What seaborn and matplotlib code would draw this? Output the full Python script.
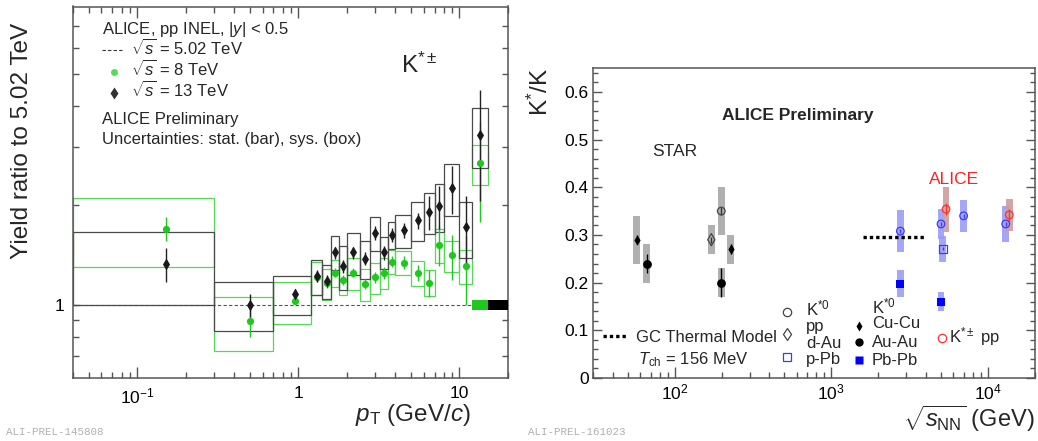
import matplotlib
matplotlib.use('Agg')
import matplotlib.pyplot as plt
import seaborn as sns
import numpy as np
from matplotlib.patches import Rectangle
from matplotlib.ticker import MultipleLocator, FuncFormatter, LogLocator, NullFormatter, NullLocator

# ---------------- left panel: K*(+-) yield ratio to 5.02 TeV ----------------
pt_lo = [0.0, 0.3, 0.7, 1.2, 1.4, 1.6, 1.8, 2.0, 2.4, 2.8, 3.2, 3.6, 4.0, 5.0, 6.0, 7.0, 8.0, 10.0, 12.0]
pt_hi = [0.3, 0.7, 1.2, 1.4, 1.6, 1.8, 2.0, 2.4, 2.8, 3.2, 3.6, 4.0, 5.0, 6.0, 7.0, 8.0, 10.0, 12.0, 15.0]
pt_center = [0.15, 0.5, 0.95, 1.3, 1.5, 1.7, 1.9, 2.2, 2.6, 3.0, 3.4, 3.8, 4.5, 5.5, 6.5, 7.5, 9.0, 11.0, 13.5]

ratio_13 = [1.33, 1.00, 1.075, 1.22, 1.18, 1.44, 1.31, 1.44, 1.38, 1.65, 1.44, 1.63, 1.68, 1.80, 1.91, 1.99, 2.26, 1.72, 3.26]
stat_13 = [0.16, 0.08, 0.04, 0.05, 0.05, 0.06, 0.06, 0.06, 0.06, 0.08, 0.07, 0.08, 0.09, 0.10, 0.23, 0.30, 0.38, 0.42, 1.2]
sys_13 = [0.33, 0.17, 0.146, 0.15, 0.14, 0.17, 0.20, 0.21, 0.18, 0.20, 0.16, 0.15, 0.19, 0.24, 0.27, 0.33, 0.40, 0.33, 0.67]

ratio_8 = [1.70, 0.89, 1.025, 1.21, 1.16, 1.25, 1.19, 1.25, 1.155, 1.21, 1.25, 1.35, 1.34, 1.25, 1.166, 1.52, 1.41, 1.31, 2.68]
stat_8 = [0.14, 0.09, 0.02, 0.04, 0.04, 0.04, 0.04, 0.04, 0.04, 0.05, 0.05, 0.05, 0.06, 0.07, 0.11, 0.21, 0.22, 0.31, 0.9]
sys_8 = [0.40, 0.165, 0.15, 0.14, 0.125, 0.12, 0.12, 0.14, 0.13, 0.13, 0.135, 0.11, 0.11, 0.11, 0.105, 0.18, 0.15, 0.155, 0.37]

# normalisation uncertainty boxes at ratio = 1 (8 TeV, 13 TeV)
norm_lo = [12.0, 15.0]
norm_hi = [15.0, 20.0]
norm_unc = [0.035, 0.035]

# ---------------- right panel: K*/K vs sqrt(s_NN) ----------------
star_cucu_x = [57, 228]
star_cucu_y = [0.29, 0.27]
star_cucu_stat = [0.01, 0.01]
star_cucu_sys = [0.05, 0.03]

star_auau_x = [66, 198]
star_auau_y = [0.24, 0.20]
star_auau_stat = [0.02, 0.03]
star_auau_sys = [0.04, 0.03]

star_pp_x = [198]
star_pp_y = [0.35]
star_pp_stat = [0.008]
star_pp_sys = [0.05]

star_dau_x = [171]
star_dau_y = [0.29]
star_dau_stat = [0.006]
star_dau_sys = [0.03]

alice_pp_x = [2760, 5020, 7000, 13000]
alice_pp_y = [0.308, 0.323, 0.340, 0.323]
alice_pp_stat = [0.004, 0.004, 0.004, 0.004]
alice_pp_sys = [0.044, 0.031, 0.034, 0.037]

alice_ppb_x = [5160]
alice_ppb_y = [0.271]
alice_ppb_stat = [0.003]
alice_ppb_sys = [0.027]

alice_pbpb_x = [2760, 5020]
alice_pbpb_y = [0.198, 0.160]
alice_pbpb_stat = [0.006, 0.008]
alice_pbpb_sys = [0.029, 0.020]

alice_kch_x = [5400, 13700]
alice_kch_y = [0.354, 0.342]
alice_kch_stat = [0.012, 0.012]
alice_kch_sys = [0.047, 0.034]

thermal_x = [1600, 4000]
thermal_y = 0.295

# ---------------- style ----------------
sns.set_theme(style='ticks')
plt.rcParams['font.family'] = ['Liberation Sans', 'DejaVu Sans']
plt.rcParams.update({
    'mathtext.fontset': 'custom',
    'mathtext.rm': 'Liberation Sans',
    'mathtext.it': 'Liberation Sans:italic',
    'mathtext.bf': 'Liberation Sans:bold',
    'mathtext.sf': 'Liberation Sans',
    'axes.edgecolor': '#555555',
    'axes.linewidth': 1.1,
    'xtick.color': '#555555',
    'ytick.color': '#555555',
    'xtick.labelcolor': 'black',
    'ytick.labelcolor': 'black',
})

GREEN = '#1ec81e'
GREEN_BOX = '#55d855'
BLACK_BOX = '#4a4a4a'
GRAY_BOX = '#a8a8a8'
BLUE_BOX = '#9c9cf6'
RED_BOX = '#cf9c9c'
BLUE = '#3838ff'
RED = '#ff3030'

W, H = 1038, 441
fig = plt.figure(figsize=(W / 100, H / 100), dpi=100)


def place(x0, y0, x1, y1):
    return fig.add_axes([x0 / W, 1 - y1 / H, (x1 - x0) / W, (y1 - y0) / H])


axL = place(73, 6.5, 508, 378)
axR = place(593, 68, 1035, 378)

# ================= left panel =================
xmin_l, xmax_l = 0.04, 20
axL.set_xscale('log')
axL.set_yscale('log')
axL.set_xlim(xmin_l, xmax_l)
axL.set_ylim(0.6, 8)

axL.axhline(1, color='#555555', lw=0.8, ls=(0, (3, 2)), zorder=1)

for lo, hi, y, s in zip(pt_lo, pt_hi, ratio_8, sys_8):
    lo = max(lo, xmin_l)
    axL.add_patch(Rectangle((lo, y - s), hi - lo, 2 * s, fill=False, ec=GREEN_BOX, lw=0.9, zorder=2))
for lo, hi, y, s in zip(pt_lo, pt_hi, ratio_13, sys_13):
    lo = max(lo, xmin_l)
    axL.add_patch(Rectangle((lo, y - s), hi - lo, 2 * s, fill=False, ec=BLACK_BOX, lw=0.9, zorder=2))

for lo, hi, u, c in zip(norm_lo, norm_hi, norm_unc, [GREEN, 'black']):
    axL.add_patch(Rectangle((lo, 1 - u), hi - lo, 2 * u, fc=c, ec='none', zorder=3))

axL.errorbar(pt_center, ratio_8, yerr=stat_8, fmt='none', ecolor=GREEN, elinewidth=1.0, zorder=3)
axL.errorbar(pt_center, ratio_13, yerr=stat_13, fmt='none', ecolor='#222222', elinewidth=1.0, zorder=3)
sns.scatterplot(x=pt_center, y=ratio_8, ax=axL, marker='o', s=27, color=GREEN, edgecolor=GREEN,
                linewidth=0, zorder=4)
sns.scatterplot(x=pt_center, y=ratio_13, ax=axL, marker='d', s=36, color='#1a1a1a', edgecolor='#1a1a1a',
                linewidth=0, zorder=5)

axL.set_xticks([0.1, 1, 10], labels=[r'$10^{-1}$', '1', '10'])
axL.xaxis.set_minor_locator(LogLocator(subs=np.arange(2, 10)))
axL.xaxis.set_minor_formatter(NullFormatter())
axL.set_yticks([0.7, 0.8, 0.9, 1, 2, 3, 4, 5, 6, 7], labels=['', '', '', '1', '', '', '', '', '', ''])
axL.yaxis.set_minor_locator(NullLocator())
axL.tick_params(which='both', direction='in', top=True, right=True, labelsize=12.5, width=1.0)
axL.tick_params(axis='x', which='major', length=8, pad=6)
axL.tick_params(axis='x', which='minor', length=4.5)
axL.tick_params(axis='y', which='major', length=4.5, pad=6)
axL.set_xlabel('')
axL.set_ylabel('')


def lpos(px, py):
    return ((px - 73) / 435, (378 - py) / 371.5)


axL.text(*lpos(22, 23), 'Yield ratio to 5.02 TeV', transform=axL.transAxes, rotation=90,
         ha='center', va='top', fontsize=17.5)
axL.text(*lpos(471, 420.5), r'$p_{\rm T}$ (GeV/$c$)', transform=axL.transAxes,
         ha='right', va='baseline', fontsize=17.5)

axL.text(*lpos(102, 34), r'ALICE, pp INEL, |$y$| < 0.5', transform=axL.transAxes, fontsize=12, va='baseline')
axL.plot(*zip(lpos(102, 50), lpos(122, 50)), transform=axL.transAxes, color='#333333', lw=0.8,
         ls=(0, (3, 2)))
axL.text(*lpos(131, 55), r'$\sqrt{s}$ = 5.02 TeV', transform=axL.transAxes, fontsize=12, va='baseline')
axL.plot(*lpos(114, 72), transform=axL.transAxes, marker='o', ms=5, color='#55dd55', mec='none')
axL.text(*lpos(131, 76), r'$\sqrt{s}$ = 8 TeV', transform=axL.transAxes, fontsize=12, va='baseline')
axL.plot(*lpos(114, 93), transform=axL.transAxes, marker='d', ms=6, color='#333333', mec='none')
axL.text(*lpos(131, 97), r'$\sqrt{s}$ = 13 TeV', transform=axL.transAxes, fontsize=12, va='baseline')
axL.text(*lpos(102, 124), 'ALICE Preliminary', transform=axL.transAxes, fontsize=12, va='baseline')
axL.text(*lpos(102, 144), 'Uncertainties: stat. (bar), sys. (box)', transform=axL.transAxes,
         fontsize=12, va='baseline')
axL.text(*lpos(401, 72.5), r'K$^{*\pm}$', transform=axL.transAxes, fontsize=17.5, va='baseline')

# ================= right panel =================
axR.set_xscale('log')
axR.set_xlim(30, 2e4)
axR.set_ylim(0, 0.65)

BOXF = 10 ** 0.022


def sys_boxes(xs, ys, ss, color, alpha):
    for x, y, s in zip(xs, ys, ss):
        axR.add_patch(Rectangle((x / BOXF, y - s), x * BOXF - x / BOXF, 2 * s, fc=color, ec='none',
                                alpha=alpha, zorder=1))


sys_boxes(star_cucu_x, star_cucu_y, star_cucu_sys, GRAY_BOX, 0.9)
sys_boxes(star_auau_x, star_auau_y, star_auau_sys, GRAY_BOX, 0.9)
sys_boxes(star_pp_x, star_pp_y, star_pp_sys, GRAY_BOX, 0.9)
sys_boxes(star_dau_x, star_dau_y, star_dau_sys, GRAY_BOX, 0.9)
sys_boxes(alice_pp_x, alice_pp_y, alice_pp_sys, BLUE_BOX, 0.9)
sys_boxes(alice_ppb_x, alice_ppb_y, alice_ppb_sys, BLUE_BOX, 0.9)
sys_boxes(alice_pbpb_x, alice_pbpb_y, alice_pbpb_sys, BLUE_BOX, 0.9)
sys_boxes(alice_kch_x, alice_kch_y, alice_kch_sys, RED_BOX, 0.9)

axR.plot(thermal_x, [thermal_y] * len(thermal_x), color='black', lw=2.4, ls=(0, (1, 0.9)), zorder=2)

for xs, ys, es, c in [(star_cucu_x, star_cucu_y, star_cucu_stat, 'black'),
                      (star_auau_x, star_auau_y, star_auau_stat, 'black'),
                      (star_pp_x, star_pp_y, star_pp_stat, '#333333'),
                      (star_dau_x, star_dau_y, star_dau_stat, '#333333'),
                      (alice_pp_x, alice_pp_y, alice_pp_stat, BLUE),
                      (alice_ppb_x, alice_ppb_y, alice_ppb_stat, BLUE),
                      (alice_pbpb_x, alice_pbpb_y, alice_pbpb_stat, BLUE),
                      (alice_kch_x, alice_kch_y, alice_kch_stat, RED)]:
    axR.errorbar(xs, ys, yerr=es, fmt='none', ecolor=c, elinewidth=1.0, zorder=3)

sns.scatterplot(x=star_cucu_x, y=star_cucu_y, ax=axR, marker='d', s=28, color='black', edgecolor='black',
                linewidth=0, zorder=4)
sns.scatterplot(x=star_auau_x, y=star_auau_y, ax=axR, marker='o', s=40, color='black', edgecolor='black',
                linewidth=0, zorder=4)
sns.scatterplot(x=star_pp_x, y=star_pp_y, ax=axR, marker='o', s=30, facecolors='none', edgecolors='#444444',
                linewidth=0.9, zorder=4)
sns.scatterplot(x=star_dau_x, y=star_dau_y, ax=axR, marker='d', s=38, facecolors='none', edgecolors='#444444',
                linewidth=0.9, zorder=4)
sns.scatterplot(x=alice_pp_x, y=alice_pp_y, ax=axR, marker='o', s=30, facecolors='none', edgecolors=BLUE,
                linewidth=0.9, zorder=4)
sns.scatterplot(x=alice_ppb_x, y=alice_ppb_y, ax=axR, marker='s', s=34, facecolors='none', edgecolors=BLUE,
                linewidth=0.9, zorder=4)
sns.scatterplot(x=alice_pbpb_x, y=alice_pbpb_y, ax=axR, marker='s', s=30, color='#0000ff', edgecolor='#0000ff',
                linewidth=0, zorder=4)
sns.scatterplot(x=alice_kch_x, y=alice_kch_y, ax=axR, marker='o', s=30, facecolors='none', edgecolors=RED,
                linewidth=0.9, zorder=4)

axR.yaxis.set_major_locator(MultipleLocator(0.1))
axR.yaxis.set_minor_locator(MultipleLocator(0.02))
axR.yaxis.set_major_formatter(FuncFormatter(lambda v, p: f'{v:g}'))
axR.xaxis.set_minor_locator(LogLocator(subs=np.arange(2, 10)))
axR.xaxis.set_minor_formatter(NullFormatter())
axR.tick_params(which='both', direction='in', top=False, right=True, labelsize=12.5, width=1.0)
axR.tick_params(axis='y', which='major', length=6.5, pad=3)
axR.tick_params(axis='y', which='minor', length=3.5)
axR.tick_params(axis='x', which='major', length=8, pad=3)
axR.tick_params(axis='x', which='minor', length=4.5)
axR.set_xlabel('')
axR.set_ylabel('')


def rpos(px, py):
    return ((px - 593) / 442, (378 - py) / 310)


axR.text(*rpos(540, 68), r'K$^{*}$/K', transform=axR.transAxes, rotation=90, ha='center', va='top',
         fontsize=17.5)
axR.text(*rpos(1035, 426.5), r'$\sqrt{s_{\rm NN}}$ (GeV)', transform=axR.transAxes, ha='right',
         va='baseline', fontsize=17)

axR.text(*rpos(798, 120.5), 'ALICE Preliminary', transform=axR.transAxes, ha='center', va='baseline',
         fontsize=12.5, fontweight='bold')
axR.text(*rpos(652, 156), 'STAR', transform=axR.transAxes, va='baseline', fontsize=12.5)
axR.text(*rpos(929, 184.3), 'ALICE', transform=axR.transAxes, va='baseline', fontsize=12.5, color='#ff2020')

# hand-made legend (ROOT style)
axR.plot(*zip(rpos(603, 336), rpos(628, 336)), transform=axR.transAxes, color='black', lw=2.4,
         ls=(0, (1, 0.9)))
axR.text(*rpos(636, 341.5), 'GC Thermal Model', transform=axR.transAxes, va='baseline', fontsize=12)
axR.text(*rpos(638, 364), r'$T_{\rm ch}$ = 156 MeV', transform=axR.transAxes, va='baseline', fontsize=12)

axR.plot(*rpos(787, 312.3), transform=axR.transAxes, marker='o', ms=6, mfc='none', mec='#444444', mew=0.9)
axR.text(*rpos(806, 315), r'K$^{*0}$', transform=axR.transAxes, va='baseline', fontsize=12)
axR.plot(*rpos(787, 334.3), transform=axR.transAxes, marker='d', ms=6.5, mfc='none', mec='#444444', mew=0.9)
axR.text(*rpos(806, 331), 'pp', transform=axR.transAxes, va='baseline', fontsize=12)
axR.text(*rpos(806, 348.3), 'd-Au', transform=axR.transAxes, va='baseline', fontsize=12)
axR.plot(*rpos(787, 356.7), transform=axR.transAxes, marker='s', ms=6, mfc='none', mec=BLUE, mew=0.9)
axR.text(*rpos(806, 364.3), 'p-Pb', transform=axR.transAxes, va='baseline', fontsize=12)

axR.text(*rpos(871.7, 313.3), r'K$^{*0}$', transform=axR.transAxes, va='baseline', fontsize=12)
axR.plot(*rpos(859, 325.7), transform=axR.transAxes, marker='d', ms=5.5, color='black', mec='none')
axR.text(*rpos(871.7, 327.7), 'Cu-Cu', transform=axR.transAxes, va='baseline', fontsize=12)
axR.plot(*rpos(859, 342.3), transform=axR.transAxes, marker='o', ms=6, color='black', mec='none')
axR.text(*rpos(871.7, 346.7), 'Au-Au', transform=axR.transAxes, va='baseline', fontsize=12)
axR.plot(*rpos(859, 360), transform=axR.transAxes, marker='s', ms=5.5, color='#0000ff', mec='none')
axR.text(*rpos(871.7, 365), 'Pb-Pb', transform=axR.transAxes, va='baseline', fontsize=12)

axR.plot(*rpos(941.7, 337.7), transform=axR.transAxes, marker='o', ms=6, mfc='none', mec=RED, mew=0.9)
axR.text(*rpos(949, 342.3), r'K$^{*\pm}$ pp', transform=axR.transAxes, va='baseline', fontsize=12)

# watermarks
fig.text(6 / W, 1 - 432 / H, 'ALI-PREL-145808', fontsize=7.8, family='Liberation Mono', color='#b0b0b0',
         va='center')
fig.text(528 / W, 1 - 432 / H, 'ALI-PREL-161023', fontsize=7.8, family='Liberation Mono', color='#b0b0b0',
         va='center')

fig.savefig('out.png', dpi=100)
